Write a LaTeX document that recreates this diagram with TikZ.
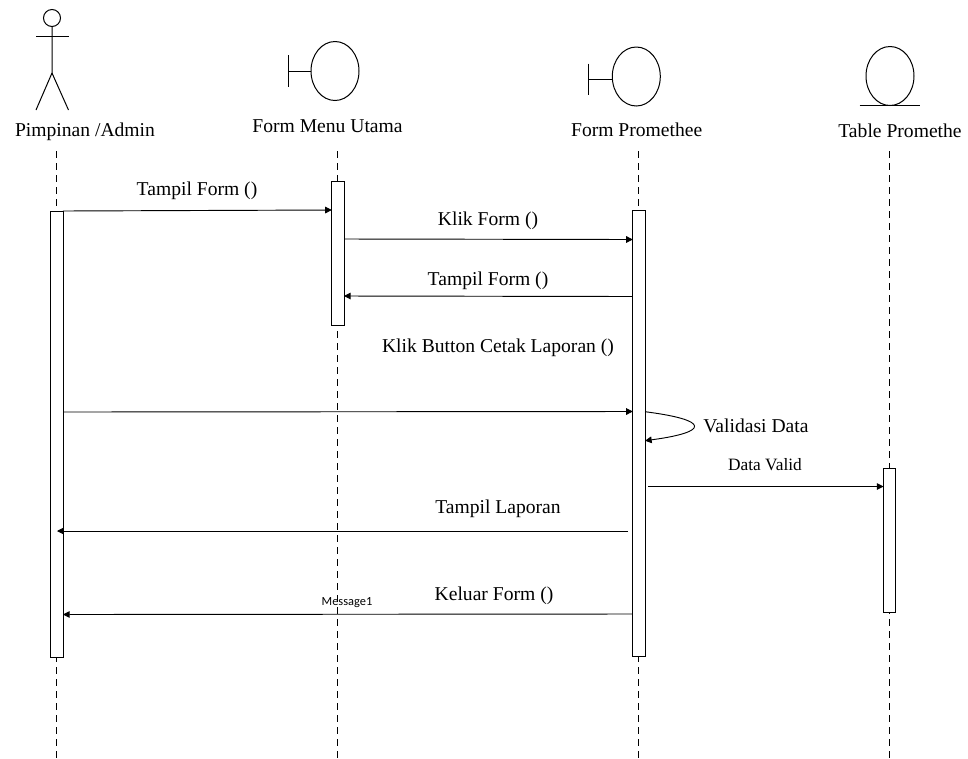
\documentclass[tikz,border=0pt]{standalone}
\usepackage{fontspec}
\setmainfont{Liberation Serif}
\newfontfamily\msgfont{Carlito}
\usetikzlibrary{arrows.meta}
\tikzset{
	lifeline/.style={line width=0.7pt, dash pattern=on 5.2pt off 3.8pt},
	lifebar/.style={draw, line width=0.7pt, fill=white, inner sep=0pt, outer sep=0pt, minimum width=9.4pt},
	msgline/.style={line width=0.7pt, -{Triangle[length=5pt,width=5pt]}},
	symline/.style={line width=0.75pt},
	headlabel/.style={font=\fontsize{14.7}{17}\selectfont, inner sep=0pt},
	msglabel/.style={font=\fontsize{14.7}{17}\selectfont, inner sep=0pt},
}

\begin{document}
\begin{tikzpicture}[x=0.75pt, y=-0.75pt]
			%%%%% START %%%%%
			\useasboundingbox (0, 0) rectangle (968, 758);
			
			\coordinate (adminTop) at (56.7, 151);
			\coordinate (adminEnd) at (56.7, 758);
			\coordinate (menuTop) at (337.5, 151);
			\coordinate (menuEnd) at (337.5, 758);
			\coordinate (promTop) at (638.7, 151);
			\coordinate (promEnd) at (638.7, 758);
			\coordinate (tableTop) at (889.5, 151);
			\coordinate (tableEnd) at (889.5, 758);
			
			\draw[lifeline] (adminTop) -- (adminEnd);
			\draw[lifeline] (menuTop) -- (menuEnd);
			\draw[lifeline] (promTop) -- (promEnd);
			\draw[lifeline] (tableTop) -- (tableEnd);
			
			\draw[symline] (52, 18) circle (8.5);
			\draw[symline] (52, 26.5) -- (52, 73) -- (36, 110);
			\draw[symline] (52, 73) -- (68.5, 110);
			\draw[symline] (36, 36) -- (68.5, 36);
			
			\draw[symline] (335, 71) ellipse (24 and 29.5);
			\draw[symline] (288, 55) -- (288, 87);
			\draw[symline] (288, 71.5) -- (311, 71.5);
			
			\draw[symline] (636.3, 76.5) ellipse (24 and 29.5);
			\draw[symline] (588.3, 63.5) -- (588.3, 95);
			\draw[symline] (588.3, 79.5) -- (612.3, 79.5);
			
			\draw[symline] (890, 76) ellipse (24 and 29.5);
			\draw[symline] (859.5, 105) -- (920, 105);
			
			\node[headlabel] (adminLabel) at (85, 132) {Pimpinan /Admin};
			\node[headlabel] (menuLabel) at (327.5, 126) {Form Menu Utama};
			\node[headlabel] (promLabel) at (636.7, 130) {Form Promethee};
			\node[headlabel] (tableLabel) at (900, 131) {Table Promethe};
			
			\node[lifebar, minimum height=334.5pt] (adminBar) at (56.7, 434) {};
			\node[lifebar, minimum height=108pt] (menuBar) at (337.7, 253) {};
			\node[lifebar, minimum height=334.5pt] (promBar) at (638.7, 433.8) {};
			\node[lifebar, minimum height=108pt] (tableBar) at (889.5, 540) {};
			
			\coordinate (showStart) at (63, 211);
			\coordinate (showEnd) at (331.8, 210);
			\coordinate (clickStart) at (344, 239);
			\coordinate (clickEnd) at (632.8, 239.5);
			\coordinate (backStart) at (632.5, 296.5);
			\coordinate (backEnd) at (344, 296);
			\coordinate (printStart) at (63, 412);
			\coordinate (printEnd) at (632.8, 411.5);
			\coordinate (checkStart) at (645, 411.7);
			\coordinate (checkEnd) at (645, 440.7);
			\coordinate (validStart) at (648, 486.5);
			\coordinate (validEnd) at (883.5, 486.5);
			\coordinate (reportStart) at (628, 531);
			\coordinate (reportEnd) at (57, 531);
			\coordinate (exitStart) at (632.5, 614);
			\coordinate (exitEnd) at (63, 614.5);
			
			\draw[msgline] (showStart) -- (showEnd);
			\draw[msgline] (clickStart) -- (clickEnd);
			\draw[msgline] (backStart) -- (backEnd);
			\draw[msgline] (printStart) -- (printEnd);
			\draw[msgline] (checkStart) .. controls (710, 420) and (710, 432) .. (checkEnd);
			\draw[msgline] (validStart) -- (validEnd);
			\draw[msgline] (reportStart) -- (reportEnd);
			\draw[msgline] (exitStart) -- (exitEnd);
			
			\node[msglabel] (showLabel) at (197, 191) {Tampil Form ()};
			\node[msglabel] (clickLabel) at (488, 221) {Klik Form ()};
			\node[msglabel] (backLabel) at (488, 281) {Tampil Form ()};
			\node[msglabel] (printLabel) at (498, 348) {Klik Button Cetak Laporan ()};
			\node[msglabel] (checkLabel) at (756, 426) {Validasi Data};
			\node[inner sep=0pt, font=\fontsize{13}{15}\selectfont] (validLabel) at (765, 465) {Data Valid};
			\node[msglabel] (reportLabel) at (498, 509) {Tampil Laporan};
			\node[msglabel] (exitLabel) at (494, 596) {Keluar Form ()};
			\node[inner sep=0pt, font=\msgfont\fontsize{9.3}{11}\selectfont] (exitName) at (347, 603) {Message1};
			
			%%%%% END %%%%%
		\end{tikzpicture}
\end{document}
